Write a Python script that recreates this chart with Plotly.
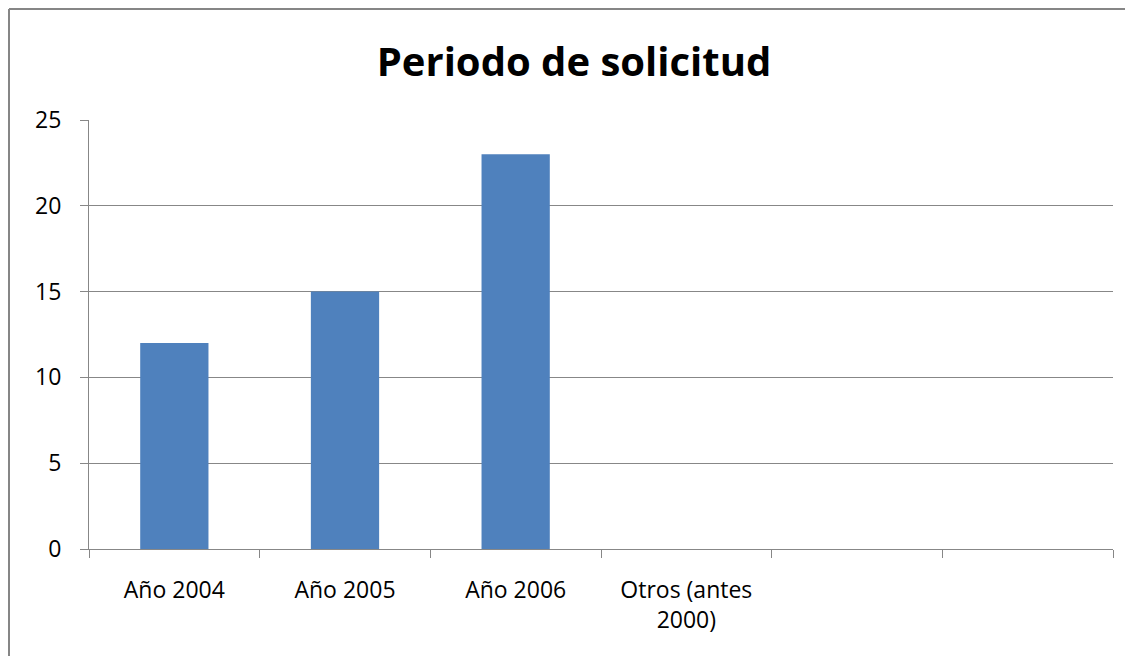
import plotly.graph_objects as go

categories = ["Año 2004", "Año 2005", "Año 2006", "Otros (antes<br>2000)", " ", "  "]
values = [12, 15, 23, 0, None, None]
y_ticks = [0, 5, 10, 15, 20, 25]

# page body has an 8px margin, so the figure is offset by 8px
W, H = 1117, 648
ml, mr, mt, mb = 81, 12, 112, 107
pw, ph = W - ml - mr, H - mt - mb

fig = go.Figure(go.Bar(x=categories, y=values, marker=dict(color="#4F81BD", line=dict(width=0))))

font_family = "Open Sans, Liberation Sans, sans-serif"
grid_col = "#878787"

fig.update_layout(
    width=W, height=H,
    margin=dict(l=ml, r=mr, t=mt, b=mb),
    paper_bgcolor="white", plot_bgcolor="white",
    bargap=0.6,
    showlegend=False,
    title=dict(text="<b>Periodo de solicitud</b>", x=566 / W, xanchor="center",
               y=1 - 54 / H, yanchor="middle",
               font=dict(family=font_family, size=40, color="black")),
    font=dict(family=font_family, size=23, color="black"),
    xaxis=dict(type="category", tickson="boundaries", ticks="outside", ticklen=8,
               tickcolor=grid_col, showline=True, linecolor=grid_col, linewidth=1,
               showgrid=False, ticklabelstandoff=20,
               tickfont=dict(family=font_family, size=23, color="black")),
    yaxis=dict(range=[0, 25], tickvals=y_ticks, ticks="outside", ticklen=8,
               tickcolor=grid_col, showline=True, linecolor=grid_col, linewidth=1,
               showgrid=True, gridcolor=grid_col, gridwidth=1, zeroline=False,
               ticklabelstandoff=14,
               tickfont=dict(family=font_family, size=23, color="black")),
)

# outer chart border: only the left and top edges are visible
x0 = (1 - ml) / pw
y1 = 1 + (mt - 1) / ph
border = dict(color="#868686", width=2)
fig.add_shape(type="line", xref="paper", yref="paper",
              x0=x0, x1=x0, y0=-(mb + 20) / ph, y1=y1, line=border, layer="below")
fig.add_shape(type="line", xref="paper", yref="paper",
              x0=x0, x1=(W + 20 - ml) / pw, y0=y1, y1=y1, line=border, layer="below")

fig.write_html("out.html")
